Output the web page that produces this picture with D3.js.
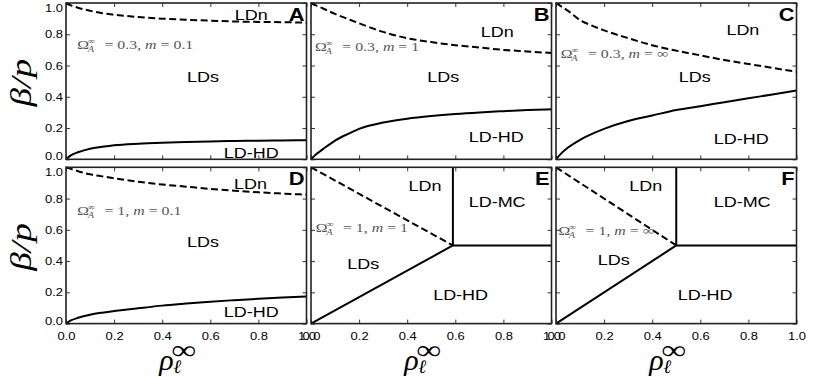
<!DOCTYPE html>
<html>
<head>
<style>
body { margin: 0; background: #fff; }
svg { display: block; }
.tick text { font-family: "Liberation Sans", Arial, sans-serif; font-size: 11px; fill: #000; }
.tick line { stroke: #000; stroke-width: 0.8; }
.frame { fill: none; stroke: #222; stroke-width: 1.6; }
.region { font-family: "Liberation Sans", Arial, sans-serif; font-size: 15.5px; text-anchor: middle; fill: #000; }
.letter { font-family: "Liberation Sans", Arial, sans-serif; font-weight: bold; font-size: 17.5px; text-anchor: end; }
.note { font-family: "Liberation Serif", serif; fill: #555; font-size: 13px; }
.solid { fill: none; stroke: #000; stroke-width: 2; }
.dashed { fill: none; stroke: #000; stroke-width: 2; stroke-dasharray: 7,3.5; }
.math { font-family: "Liberation Serif", serif; font-style: italic; fill: #000; }
</style>
</head>
<body>
<script src="https://cdnjs.cloudflare.com/ajax/libs/d3/7.8.5/d3.min.js"></script>
<script>
// values
const panelIds = ['A', 'B', 'C', 'D', 'E', 'F'];
const ticks = [0, 0.2, 0.4, 0.6, 0.8, 1.0];
const rho = [0, 0.02, 0.05, 0.1, 0.15, 0.2, 0.3, 0.4, 0.5, 0.6, 0.7, 0.8, 0.9, 1.0];

const upperA = [1.0, 0.985, 0.97, 0.95, 0.935, 0.925, 0.91, 0.9, 0.893, 0.887, 0.882, 0.879, 0.877, 0.875];
const lowerA = [0, 0.025, 0.045, 0.068, 0.08, 0.09, 0.1, 0.106, 0.11, 0.114, 0.117, 0.119, 0.121, 0.122];
const upperB = [1.0, 0.985, 0.965, 0.93, 0.9, 0.87, 0.815, 0.775, 0.75, 0.73, 0.715, 0.7, 0.69, 0.68];
const lowerB = [0, 0.03, 0.065, 0.12, 0.16, 0.195, 0.235, 0.26, 0.277, 0.29, 0.3, 0.308, 0.315, 0.32];
const upperC = [1.0, 0.98, 0.95, 0.89, 0.855, 0.825, 0.775, 0.73, 0.695, 0.665, 0.635, 0.61, 0.585, 0.56];
const lowerC = [0, 0.035, 0.075, 0.125, 0.163, 0.195, 0.245, 0.28, 0.315, 0.34, 0.365, 0.39, 0.415, 0.44];
const upperD = [1.0, 0.99, 0.975, 0.955, 0.942, 0.93, 0.908, 0.89, 0.876, 0.862, 0.85, 0.84, 0.832, 0.825];
const lowerD = [0, 0.02, 0.037, 0.057, 0.07, 0.08, 0.098, 0.115, 0.128, 0.14, 0.15, 0.159, 0.167, 0.174];
// triple points of the straight-line diagrams
const cornerE = [0.59, 0.5];
const cornerF = [0.5, 0.5];

const omegaValues = ['0.3', '0.3', '0.3', '1', '1', '1'];
const mValues = ['0.1', '1', '\u221E', '0.1', '1', '\u221E'];
const notePos = [[0.047, 0.705], [0.017, 0.69], [0.02, 0.645], [0.047, 0.693], [0.02, 0.588], [0.01, 0.569]];

const regionNames = [
    ['LDn', 'LDs', 'LD-HD'],
    ['LDn', 'LDs', 'LD-HD'],
    ['LDn', 'LDs', 'LD-HD'],
    ['LDn', 'LDs', 'LD-HD'],
    ['LDn', 'LD-MC', 'LDs', 'LD-HD'],
    ['LDn', 'LD-MC', 'LDs', 'LD-HD']
];
const regionAt = [
    [[0.77, 0.93], [0.57, 0.53], [0.77, 0.045]],
    [[0.774, 0.82], [0.55, 0.53], [0.77, 0.145]],
    [[0.777, 0.83], [0.577, 0.53], [0.77, 0.133]],
    [[0.767, 0.9], [0.57, 0.525], [0.77, 0.075]],
    [[0.474, 0.887], [0.774, 0.78], [0.217, 0.383], [0.622, 0.185]],
    [[0.373, 0.887], [0.774, 0.78], [0.24, 0.41], [0.62, 0.185]]
];

const zip = (xs, ys) => xs.map((x, i) => [x, ys[i]]);
function kinked(c){
    return {
        dashed: [[[0, 1], c]],
        solid: [[[0, 0], c], [c, [c[0], 1]], [c, [1, c[1]]]],
        curve: d3.curveLinear
    };
}
const lines = [
    {dashed: [zip(rho, upperA)], solid: [zip(rho, lowerA)], curve: d3.curveMonotoneX},
    {dashed: [zip(rho, upperB)], solid: [zip(rho, lowerB)], curve: d3.curveMonotoneX},
    {dashed: [zip(rho, upperC)], solid: [zip(rho, lowerC)], curve: d3.curveMonotoneX},
    {dashed: [zip(rho, upperD)], solid: [zip(rho, lowerD)], curve: d3.curveMonotoneX},
    kinked(cornerE),
    kinked(cornerF)
];

const colX = [66, 311, 556];
const rowY = [3, 167.3];
const pw = 240.5;
const ph = 156.3;

// the source figure's lettering is wider than the local fonts
function stretch(sel, k){
    sel.each(function(){
        const t = d3.select(this);
        const x = +t.attr('x') || 0;
        const y = +t.attr('y') || 0;
        t.attr('x', 0).attr('y', 0).attr('transform', `translate(${x},${y}) scale(${k},1)`);
    });
}

const svg = d3.select('body').append('svg')
    .attr('width', 822)
    .attr('height', 377);

panelIds.forEach((id, i) => {
    const col = i % 3;
    const row = Math.floor(i / 3);
    const x = d3.scaleLinear().domain([0, 1]).range([0, pw]);
    const y = d3.scaleLinear().domain([0, 1]).range([ph, 0]);
    const g = svg.append('g').attr('transform', `translate(${colX[col]},${rowY[row]})`);

    // inward ticks on all four sides
    const left = g.append('g').call(d3.axisLeft(y).tickValues(ticks).tickSizeInner(-4).tickSizeOuter(0).tickPadding(3)
        .tickFormat(col === 0 ? d3.format('.1f') : ''));
    left.selectAll('.tick text')
        .attr('y', d => d === 1 ? 5 : d === 0 ? -3 : 0);
    stretch(left.selectAll('.tick text'), 1.18);
    g.append('g').attr('transform', `translate(${pw},0)`)
        .call(d3.axisRight(y).tickValues(ticks).tickSizeInner(-4).tickSizeOuter(0).tickFormat(''));
    g.append('g')
        .call(d3.axisTop(x).tickValues(ticks).tickSizeInner(-4).tickSizeOuter(0).tickFormat(''));
    const bottom = g.append('g').attr('transform', `translate(0,${ph})`)
        .call(d3.axisBottom(x).tickValues(ticks).tickSizeInner(-4).tickSizeOuter(0).tickPadding(9)
            .tickFormat(row === 1 ? d3.format('.1f') : ''));
    stretch(bottom.selectAll('.tick text'), 1.18);
    g.selectAll('.domain').remove();

    const line = d3.line().x(d => x(d[0])).y(d => y(d[1])).curve(lines[i].curve);
    g.selectAll('path.dashed').data(lines[i].dashed).join('path')
        .attr('class', 'dashed').attr('d', line);
    g.selectAll('path.solid').data(lines[i].solid).join('path')
        .attr('class', 'solid').attr('d', line);

    g.append('rect').attr('class', 'frame').attr('width', pw).attr('height', ph);

    const regions = g.selectAll('text.region').data(regionNames[i]).join('text')
        .attr('class', 'region')
        .attr('x', (d, k) => x(regionAt[i][k][0]))
        .attr('y', (d, k) => y(regionAt[i][k][1]))
        .attr('dy', '0.36em')
        .text(d => d);
    stretch(regions, 1.16);

    const letter = g.append('text').attr('class', 'letter')
        .attr('x', pw - 2).attr('y', 17.5)
        .text(id);
    stretch(letter, 1.25);

    // parameter note
    const note = g.append('g').attr('class', 'note')
        .attr('transform', `translate(${x(notePos[i][0])},${y(notePos[i][1])}) scale(1.22,1)`);
    note.append('text').text('\u03A9');
    note.append('text').attr('x', 8.5).attr('y', -5).style('font-size', '8.5px').text('\u221E');
    note.append('text').attr('x', 8.5).attr('y', 3).style('font-size', '8.5px').style('font-style', 'italic').text('A');
    const rest = note.append('text').attr('x', 19).attr('xml:space', 'preserve');
    rest.append('tspan').text(` = ${omegaValues[i]}, `);
    rest.append('tspan').style('font-style', 'italic').text('m');
    rest.append('tspan').text(` = ${mValues[i]}`);

    if (col === 0){
        svg.append('text').attr('class', 'math')
            .attr('transform', `translate(31,${rowY[row] + ph / 2 + 1.5}) rotate(-90) scale(1.25,1)`)
            .attr('text-anchor', 'middle')
            .style('font-size', '30px')
            .text('\u03B2/p');
    }
    if (row === 1){
        const cx = colX[col] + pw / 2;
        const lab = svg.append('g').attr('class', 'math');
        lab.append('text').attr('x', cx - 27).attr('y', 370).style('font-size', '30px').text('\u03C1');
        lab.append('text').attr('x', cx - 13).attr('y', 373).style('font-size', '19px').text('\u2113');
        lab.append('text')
            .attr('transform', `translate(${cx - 15},359) scale(1.3,1)`)
            .style('font-style', 'normal').style('font-size', '27px')
            .text('\u221E');
    }
});
</script>
</body>
</html>
